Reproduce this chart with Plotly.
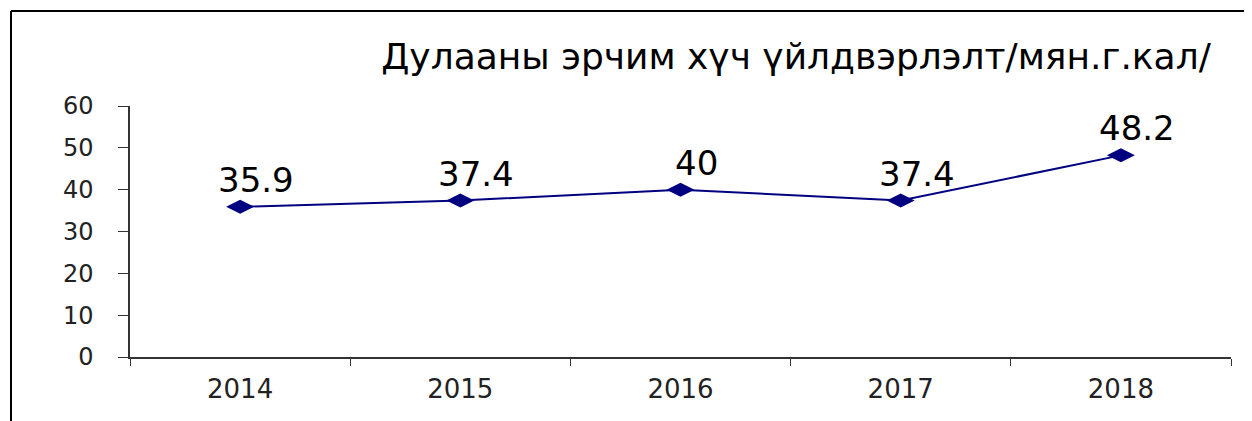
import plotly.graph_objects as go

years = ["2014", "2015", "2016", "2017", "2018"]
values = [35.9, 37.4, 40, 37.4, 48.2]
labels = ["35.9", "37.4", "40", "37.4", "48.2"]
title_text = "Дулааны эрчим хүч үйлдвэрлэлт/мян.г.кал/"

OFF = 8  # default page body margin
W, H = 1252 - OFF, 421 - OFF
L, R, T, B = 130 - OFF, 21, 106 - OFF, 64
pw = W - L - R
ph = H - T - B

def px_x(p):
    return (p - OFF - L) / pw

def px_y(p):
    return (H - B - (p - OFF)) / ph

fig = go.Figure()
fig.add_trace(go.Scatter(
    x=years, y=values, mode="lines+markers",
    line=dict(color="#000080", width=2),
    marker=dict(symbol="diamond-wide", size=20, color="#000080"),
    cliponaxis=False, showlegend=False,
))

# category positions are indices on the category axis
annotations = [
    dict(x=i, y=v, text=lab, showarrow=False, xref="x", yref="y",
         xshift=16, yshift=27, yanchor="middle", xanchor="center",
         font=dict(family="DejaVu Sans", size=34, color="#000000"))
    for i, (v, lab) in enumerate(zip(values, labels))
]

fig.update_layout(
    width=W, height=H,
    margin=dict(l=L, r=R, t=T, b=B),
    paper_bgcolor="white", plot_bgcolor="white",
    font=dict(family="DejaVu Sans", color="#000000"),
    title=dict(text=title_text, x=px_x(796), xref="paper", xanchor="center",
               y=(H - (56 - OFF)) / H, yanchor="middle",
               font=dict(family="DejaVu Sans", size=36, color="#000000")),
    xaxis=dict(type="category", range=[-0.5, len(years) - 0.5],
               tickson="boundaries", ticks="outside", ticklen=7,
               tickcolor="#333333", showline=True, linecolor="#333333", linewidth=1.5,
               showgrid=False, tickfont=dict(size=26, color="#222222"),
               ticklabelstandoff=8, zeroline=False),
    yaxis=dict(range=[0, 60], dtick=10, ticks="outside", ticklen=10,
               tickcolor="#333333", showline=True, linecolor="#333333", linewidth=1.5,
               showgrid=False, zeroline=False, tickfont=dict(size=24, color="#222222"),
               ticklabelstandoff=20),
    annotations=annotations,
    shapes=[
        dict(type="line", xref="paper", yref="paper", x0=px_x(11), x1=px_x(1270),
             y0=px_y(11), y1=px_y(11), line=dict(color="#000000", width=2)),
        dict(type="line", xref="paper", yref="paper", x0=px_x(11), x1=px_x(11),
             y0=px_y(11), y1=px_y(440), line=dict(color="#000000", width=2)),
    ],
)

fig.write_html("out.html")
